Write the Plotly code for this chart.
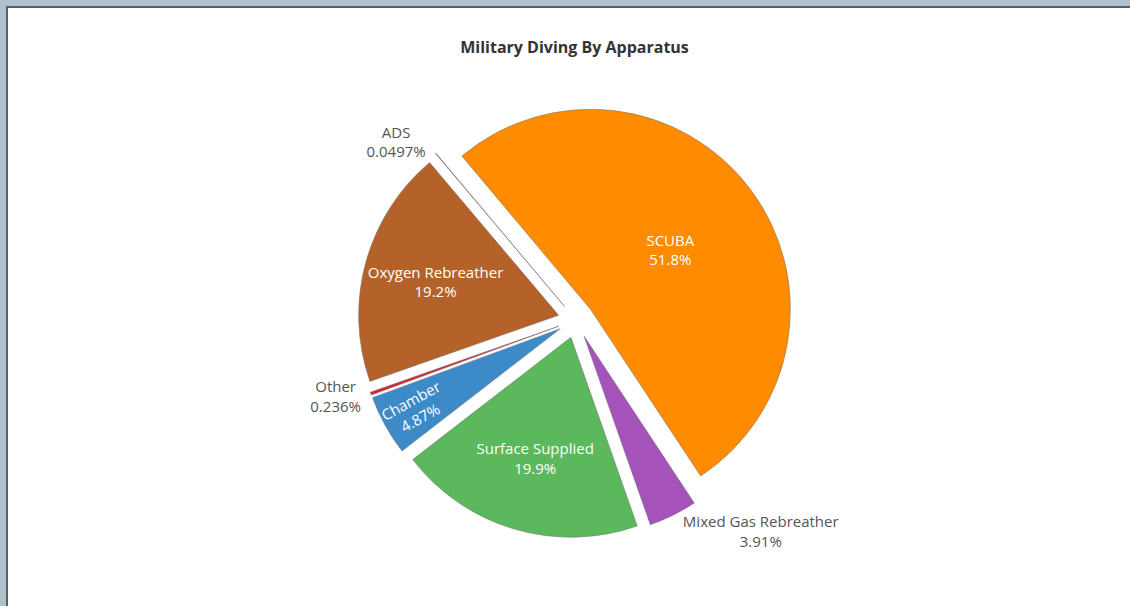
import plotly.graph_objects as go

# Share of military dives by apparatus (percent)
apparatus = [
    "SCUBA",
    "Mixed Gas Rebreather",
    "Surface Supplied",
    "Chamber",
    "Other",
    "Oxygen Rebreather",
    "ADS",
]
share = [51.8, 3.91, 19.9, 4.87, 0.236, 19.2, 0.0497]
slice_colors = [
    "#ff8c00",
    "#a552bb",
    "#5cb85c",
    "#3d8ac9",
    "#d9262e",
    "#b5622a",
    "#9a9a9a",
]

W, H = 1130, 606
cx, cy = 576, 320          # pie centre in px
box = 436                  # pie box size in px
pull = 0.09

fig = go.Figure(
    go.Pie(
        labels=apparatus,
        values=share,
        sort=False,
        direction="clockwise",
        rotation=-40,
        pull=[pull] * len(share),
        marker=dict(colors=slice_colors, line=dict(color="#6e6e6e", width=0.5)),
        textinfo="label+percent",
        textposition="auto",
        insidetextorientation="auto",
        insidetextfont=dict(color="#ffffff", size=15),
        outsidetextfont=dict(color="#555555", size=15),
        showlegend=False,
        domain=dict(
            x=[(cx - box / 2) / W, (cx + box / 2) / W],
            y=[1 - (cy + box / 2) / H, 1 - (cy - box / 2) / H],
        ),
    )
)

# page frame: grey-blue band with a dark rule on the top and left edges
frame_shapes = [
    dict(type="rect", xref="paper", yref="paper", x0=0, x1=1, y0=1 - 6 / H, y1=1,
         fillcolor="#aec3cc", line_width=0, layer="below"),
    dict(type="rect", xref="paper", yref="paper", x0=0, x1=6 / W, y0=0, y1=1,
         fillcolor="#aec3cc", line_width=0, layer="below"),
    dict(type="rect", xref="paper", yref="paper", x0=6 / W, x1=1, y0=1 - 8 / H, y1=1 - 6 / H,
         fillcolor="#5a6064", line_width=0, layer="below"),
    dict(type="rect", xref="paper", yref="paper", x0=6 / W, x1=8 / W, y0=0, y1=1 - 6 / H,
         fillcolor="#5a6064", line_width=0, layer="below"),
]

fig.update_layout(
    width=W,
    height=H,
    margin=dict(l=0, r=0, t=0, b=0),
    paper_bgcolor="#ffffff",
    font=dict(family="Open Sans", size=15, color="#555555"),
    title=dict(
        text="<b>Military Diving By Apparatus</b>",
        x=574.5 / W,
        xanchor="center",
        y=1 - 47 / H,
        yanchor="middle",
        xref="paper",
        yref="paper",
        font=dict(family="Open Sans", size=16, color="#333333"),
    ),
    shapes=frame_shapes,
)

fig.write_html("out.html")
